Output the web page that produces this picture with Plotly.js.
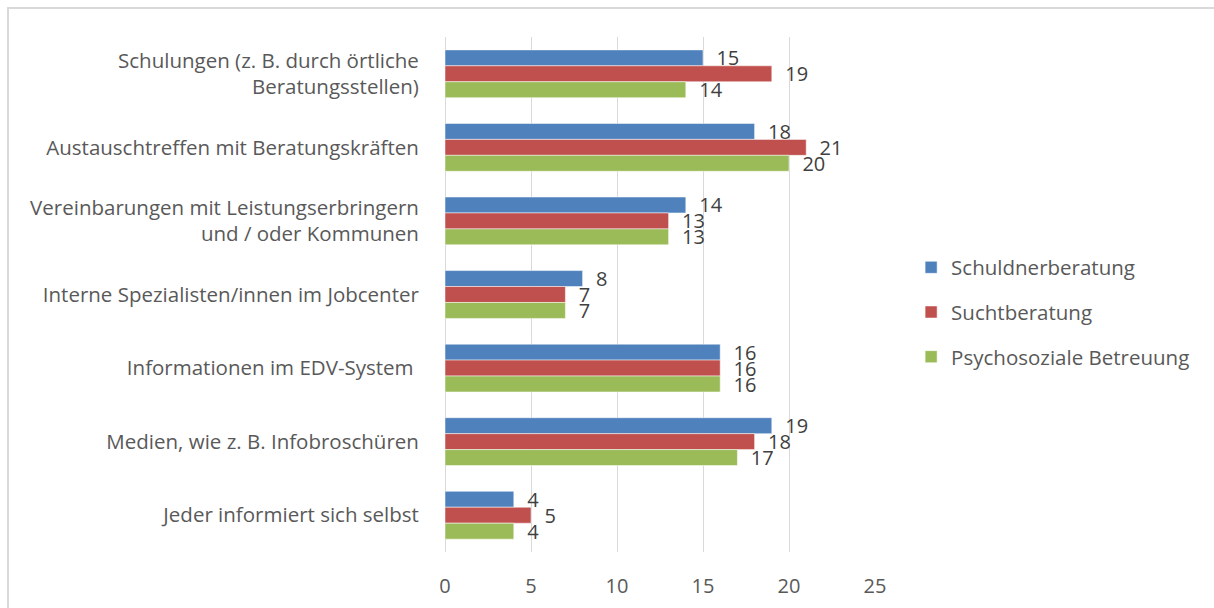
<!DOCTYPE html>
<html>
<head>
<meta charset="utf-8">
<script src="https://cdn.plot.ly/plotly-3.0.1.min.js"></script>
<style>
html,body{margin:0;padding:0;background:#fff;overflow:hidden;}
#frame{position:absolute;left:7px;top:7px;width:1230px;height:640px;border-top:2px solid #d9d9d9;border-left:2px solid #d9d9d9;box-sizing:border-box;}
#chart{position:absolute;left:0;top:0;width:1214px;height:608px;}
</style>
</head>
<body>
<div id="frame"></div>
<div id="chart"></div>
<script>
const categories = [
  "Schulungen (z. B. durch örtliche<br>Beratungsstellen)",
  "Austauschtreffen mit Beratungskräften",
  "Vereinbarungen mit Leistungserbringern<br>und / oder Kommunen",
  "Interne Spezialisten/innen im Jobcenter",
  "Informationen im EDV-System ",
  "Medien, wie z. B. Infobroschüren",
  "Jeder informiert sich selbst"
];
const seriesNames = ["Schuldnerberatung", "Suchtberatung", "Psychosoziale Betreuung"];
const schuldner = [15, 18, 14, 8, 16, 19, 4];
const sucht = [19, 21, 13, 7, 16, 18, 5];
const psycho = [14, 20, 13, 7, 16, 17, 4];
const colors = ["#4f81bd", "#c0504d", "#9bbb59"];
const values = [schuldner, sucht, psycho];

const FONT = "Open Sans, sans-serif";
const traces = values.map((v, i) => ({
  type: "bar",
  orientation: "h",
  name: seriesNames[i],
  legendgroup: seriesNames[i],
  y: categories,
  x: v,
  text: v.map(n => "\u00a0\u00a0" + n),
  textposition: "outside",
  constraintext: "none",
  cliponaxis: false,
  textfont: {family: FONT, size: 20, color: "#404040"},
  marker: {color: colors[i], line: {color: "#ffffff", width: 0.5}},
  hoverinfo: "x+name"
}));

const layout = {
  width: 1214,
  height: 608,
  paper_bgcolor: "rgba(0,0,0,0)",
  plot_bgcolor: "rgba(0,0,0,0)",
  margin: {l: 445, r: 339, t: 37, b: 56, pad: 0},
  barmode: "group",
  bargap: 0.35,
  bargroupgap: 0,
  font: {family: FONT, size: 20, color: "#595959"},
  xaxis: {
    range: [0, 25],
    tickvals: [0, 5, 10, 15, 20, 25],
    showgrid: true,
    gridcolor: "#d9d9d9",
    gridwidth: 1,
    zeroline: true,
    zerolinecolor: "#d9d9d9",
    zerolinewidth: 1,
    showline: false,
    ticks: "outside",
    ticklen: 16,
    tickcolor: "rgba(0,0,0,0)",
    tickfont: {family: FONT, size: 20, color: "#595959"},
    fixedrange: true
  },
  yaxis: {
    autorange: "reversed",
    categoryorder: "array",
    categoryarray: categories,
    showgrid: false,
    zeroline: false,
    showline: false,
    ticks: "outside",
    ticklen: 21,
    tickcolor: "rgba(0,0,0,0)",
    tickfont: {family: FONT, size: 20.5, color: "#595959"},
    fixedrange: true
  },
  legend: {
    x: 1.084,
    xanchor: "left",
    y: 0.466,
    yanchor: "middle",
    traceorder: "grouped",
    font: {family: FONT, size: 20.5, color: "#595959"},
    itemwidth: 30,
    tracegroupgap: 15,
    bgcolor: "rgba(0,0,0,0)"
  },
  showlegend: true
};

Plotly.newPlot("chart", traces, layout, {displayModeBar: false, staticPlot: true});
</script>
</body>
</html>
